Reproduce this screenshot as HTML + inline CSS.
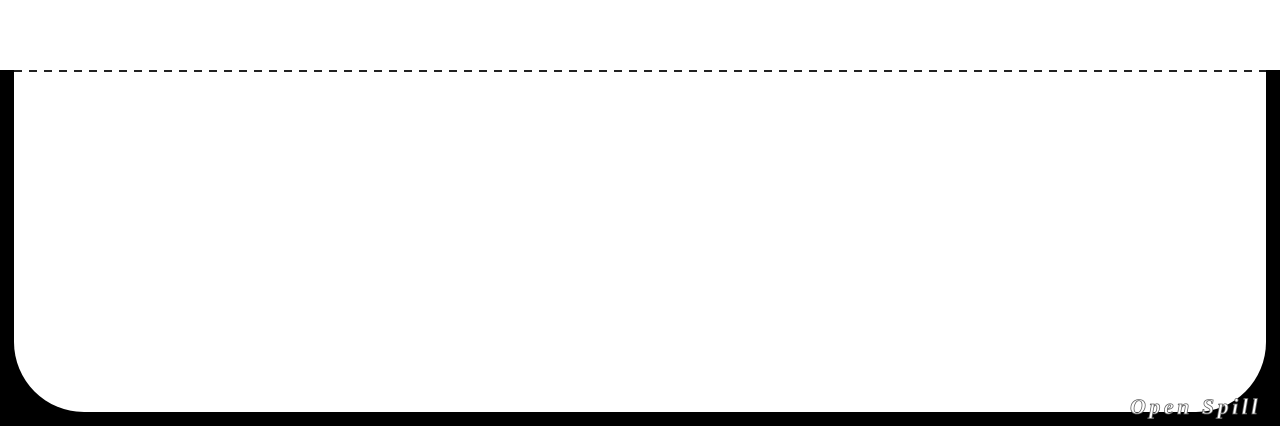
<!DOCTYPE html>
<html><head><meta charset="utf-8"><style>
html,body{margin:0;padding:0;background:#fff;width:1280px;height:426px;overflow:hidden;position:relative}
.blk{position:absolute;left:0;top:70px;width:1280px;height:356px;background:#000}
.pan{position:absolute;left:14px;top:70px;width:1252px;height:342px;background:#fff;border-radius:0 0 70px 70px}
.dash{position:absolute;left:14px;top:70px;width:1252px;height:2px;background:repeating-linear-gradient(90deg,#222 0 8px,transparent 8px 15px)}
.t{position:absolute;left:1130px;top:394px;font-family:"Liberation Serif",serif;font-style:italic;font-weight:bold;font-size:22px;color:#fff;letter-spacing:3.5px;-webkit-text-stroke:0.8px #666;white-space:nowrap}
</style></head><body>
<div class="blk"></div><div class="pan"></div><div class="dash"></div>
<div class="t">Open Spill</div>
</body></html>
